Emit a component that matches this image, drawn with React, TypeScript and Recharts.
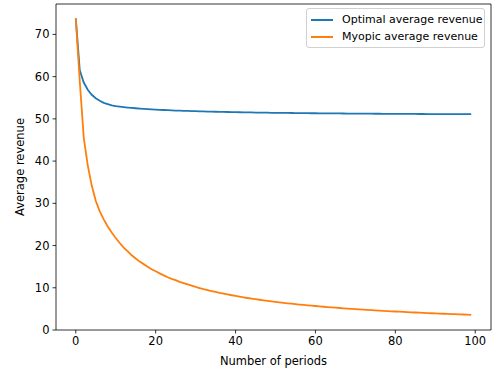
import React from "react";
import { LineChart, Line, XAxis, YAxis, ReferenceLine } from "recharts";

const optimalRevenue = [
  73.8, 61.5, 58.6, 56.9, 55.7, 54.9, 54.3, 53.8, 53.5, 53.2,
  53.0, 52.88, 52.77, 52.68, 52.59, 52.51, 52.44, 52.37, 52.31, 52.25,
  52.2, 52.15, 52.1, 52.05, 52.01, 51.97, 51.94, 51.9, 51.87, 51.84,
  51.81, 51.78, 51.76, 51.73, 51.71, 51.68, 51.66, 51.64, 51.62, 51.6,
  51.58, 51.56, 51.55, 51.53, 51.52, 51.5, 51.49, 51.47, 51.46, 51.44,
  51.43, 51.42, 51.41, 51.4, 51.39, 51.37, 51.36, 51.35, 51.34, 51.33,
  51.33, 51.32, 51.31, 51.3, 51.29, 51.28, 51.28, 51.27, 51.26, 51.25,
  51.25, 51.24, 51.23, 51.23, 51.22, 51.21, 51.21, 51.2, 51.2, 51.19,
  51.18, 51.18, 51.17, 51.17, 51.16, 51.16, 51.15, 51.15, 51.14, 51.14,
  51.14, 51.13, 51.13, 51.12, 51.12, 51.11, 51.11, 51.11, 51.1, 51.1,
];

const myopicRevenue = [
  73.8, 58.9, 45.5, 39.0, 34.2, 30.6, 28.1, 26.2, 24.5, 23.1,
  21.8, 20.6, 19.5, 18.6, 17.7, 16.95, 16.2, 15.6, 15.0, 14.4,
  13.9, 13.4, 12.95, 12.5, 12.1, 11.8, 11.4, 11.1, 10.8, 10.5,
  10.2, 9.94, 9.68, 9.45, 9.22, 9.0, 8.8, 8.6, 8.41, 8.23,
  8.06, 7.89, 7.73, 7.58, 7.43, 7.29, 7.16, 7.03, 6.9, 6.78,
  6.66, 6.55, 6.44, 6.33, 6.23, 6.13, 6.03, 5.94, 5.85, 5.76,
  5.68, 5.59, 5.51, 5.44, 5.36, 5.29, 5.21, 5.14, 5.08, 5.01,
  4.95, 4.88, 4.82, 4.76, 4.7, 4.65, 4.59, 4.54, 4.48, 4.43,
  4.38, 4.33, 4.28, 4.24, 4.19, 4.14, 4.1, 4.06, 4.01, 3.97,
  3.93, 3.89, 3.85, 3.82, 3.78, 3.74, 3.7, 3.67, 3.63, 3.6,
];

const periods = optimalRevenue.map((_, i) => i);
const xTicks = [0, 20, 40, 60, 80, 100];
const yTicks = [0, 10, 20, 30, 40, 50, 60, 70];
const xDomain = [-4.95, 103.95];
const yDomain = [0, 77.2];

const seriesNames = ["Optimal average revenue", "Myopic average revenue"];
const seriesColors = ["#1f77b4", "#ff7f0e"];

const data = periods.map((p, i) => ({
  period: p,
  optimal: optimalRevenue[i],
  myopic: myopicRevenue[i],
}));

const FONT = "'DejaVu Sans', sans-serif";
const FS = 11.5;

function LegendBox() {
  return (
    <div
      style={{
        position: "absolute",
        left: 306,
        top: 8,
        width: 179,
        boxSizing: "border-box",
        border: "1px solid #d0d0d0",
        borderRadius: 3,
        background: "rgba(255,255,255,0.8)",
        padding: "2px 4px",
        fontFamily: FONT,
        fontSize: 11,
        color: "#000",
      }}
    >
      {seriesNames.map((name, i) => (
        <div key={name} style={{ display: "flex", alignItems: "center", height: 17 }}>
          <div style={{ width: 22, height: 2, flexShrink: 0, background: seriesColors[i], marginRight: 9 }} />
          <span style={{ whiteSpace: "nowrap" }}>{name}</span>
        </div>
      ))}
    </div>
  );
}

export default function App() {
  const tickStyle = { fontSize: FS, fill: "#000", fontFamily: FONT };
  const frame = { stroke: "#000", strokeWidth: 0.8 };
  return (
    <div style={{ position: "absolute", left: 0, top: 0, width: 492, height: 373, background: "#fff" }}>
      <LineChart width={492} height={373} data={data} margin={{ top: 4, right: 1, bottom: 0, left: 0 }}>
        <XAxis
          dataKey="period"
          type="number"
          domain={xDomain}
          ticks={xTicks}
          allowDataOverflow
          height={43}
          tick={tickStyle}
          tickSize={3.5}
          tickMargin={3}
          axisLine={frame}
          tickLine={frame}
          label={{ value: "Number of periods", position: "insideBottom", offset: 8, style: { fontSize: FS, fill: "#000", fontFamily: FONT } }}
        />
        <YAxis
          type="number"
          domain={yDomain}
          ticks={yTicks}
          allowDataOverflow
          width={56}
          tick={tickStyle}
          tickSize={3.5}
          tickMargin={3}
          axisLine={frame}
          tickLine={frame}
          label={{ value: "Average revenue", angle: -90, position: "insideLeft", offset: 20, style: { textAnchor: "middle", fontSize: FS, fill: "#000", fontFamily: FONT } }}
        />
        <ReferenceLine y={yDomain[1]} stroke="#000" strokeWidth={0.8} />
        <ReferenceLine x={xDomain[1]} stroke="#000" strokeWidth={0.8} />
        <Line dataKey="optimal" name={seriesNames[0]} stroke={seriesColors[0]} strokeWidth={1.8} dot={false} isAnimationActive={false} />
        <Line dataKey="myopic" name={seriesNames[1]} stroke={seriesColors[1]} strokeWidth={1.8} dot={false} isAnimationActive={false} />
      </LineChart>
      <LegendBox />
    </div>
  );
}
